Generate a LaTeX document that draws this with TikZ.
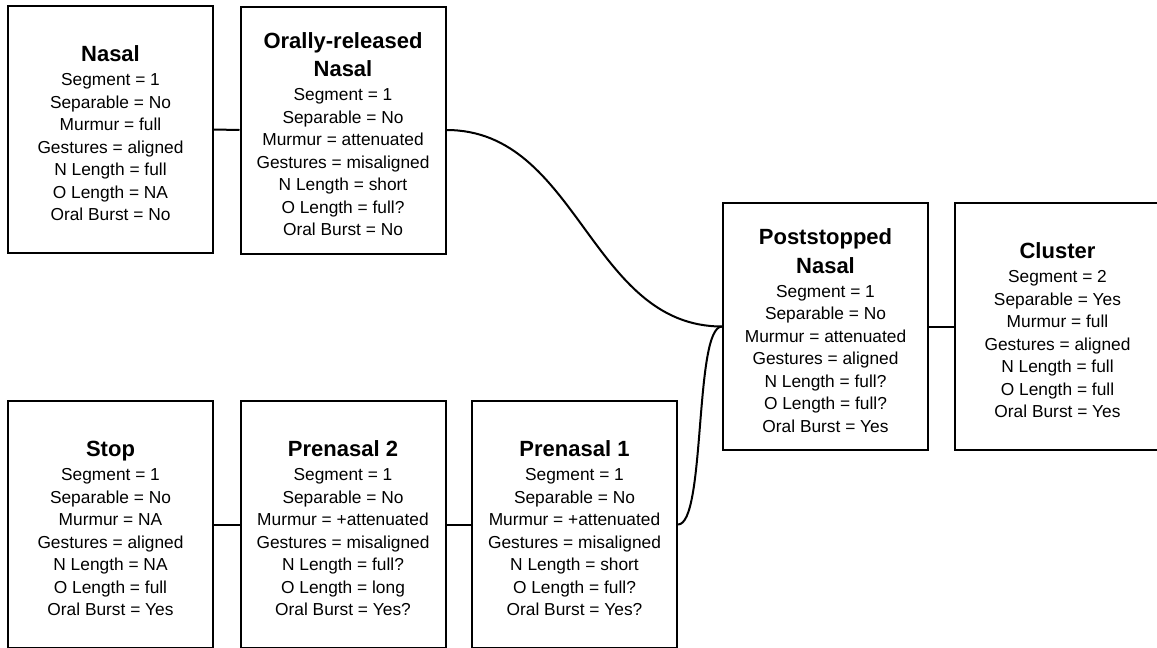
\documentclass[tikz,border=0pt]{standalone}
\usepackage{fontspec}
\setmainfont{Liberation Sans}
\usetikzlibrary{positioning}
\newcommand{\boxtitle}[1]{{\fontsize{16.5}{20}\selectfont\bfseries #1}}

\begin{document}
\begin{tikzpicture}[x=0.75pt,y=-0.75pt,
  feature/.style={draw,line width=1.5pt,minimum width=153.75pt,minimum height=185.25pt,
    align=center,inner sep=0pt,font=\fontsize{13}{16.9}\selectfont},
  link/.style={line width=1.5pt}]
  \useasboundingbox (0,0) rectangle (1157,647);
  \clip (0,0) rectangle (1157,647);

  % Top row
  \node[feature] (nasal) at (110.5,129.5) {{}\\[1.1pt]\boxtitle{Nasal}\\[1pt]
    Segment = 1\\Separable = No\\Murmur = full\\Gestures = aligned\\
    N Length = full\\O Length = NA\\Oral Burst = No};
  \node[feature] (orally) at (343,130) {{}\\[1.1pt]\boxtitle{Orally-released}\\[4.5pt]\boxtitle{Nasal}\\[1pt]
    Segment = 1\\Separable = No\\Murmur = attenuated\\Gestures = misaligned\\
    N Length = short\\O Length = full?\\Oral Burst = No};

  % Middle row
  \node[feature] (post) at (825.5,326.5) {{}\\[1.1pt]\boxtitle{Poststopped}\\[4.5pt]\boxtitle{Nasal}\\[1pt]
    Segment = 1\\Separable = No\\Murmur = attenuated\\Gestures = aligned\\
    N Length = full?\\O Length = full?\\Oral Burst = Yes};
  \node[feature] (cluster) at (1057.5,326.5) {{}\\[1.1pt]\boxtitle{Cluster}\\[1pt]
    Segment = 2\\Separable = Yes\\Murmur = full\\Gestures = aligned\\
    N Length = full\\O Length = full\\Oral Burst = Yes};

  % Bottom row
  \node[feature] (stop) at (110.5,524.5) {{}\\[1.1pt]\boxtitle{Stop}\\[1pt]
    Segment = 1\\Separable = No\\Murmur = NA\\Gestures = aligned\\
    N Length = NA\\O Length = full\\Oral Burst = Yes};
  \node[feature] (pren2) at (343,524.5) {{}\\[1.1pt]\boxtitle{Prenasal 2}\\[1pt]
    Segment = 1\\Separable = No\\Murmur = +attenuated\\Gestures = misaligned\\
    N Length = full?\\O Length = long\\Oral Burst = Yes?};
  \node[feature] (pren1) at (574.5,524.5) {{}\\[1.1pt]\boxtitle{Prenasal 1}\\[1pt]
    Segment = 1\\Separable = No\\Murmur = +attenuated\\Gestures = misaligned\\
    N Length = short\\O Length = full?\\Oral Burst = Yes?};

  % Connectors
  \draw[link] (nasal.east) -- (orally.west);
  \draw[link] (orally.east) to[out=0,in=180] (post.west);
  \draw[link] (post.east) -- (cluster.west);
  \draw[link] (stop.east) -- (pren2.west);
  \draw[link] (pren2.east) -- (pren1.west);
  \draw[link] (pren1.east) .. controls +(28,0) and +(-28,0) .. (post.west);
\end{tikzpicture}
\end{document}
